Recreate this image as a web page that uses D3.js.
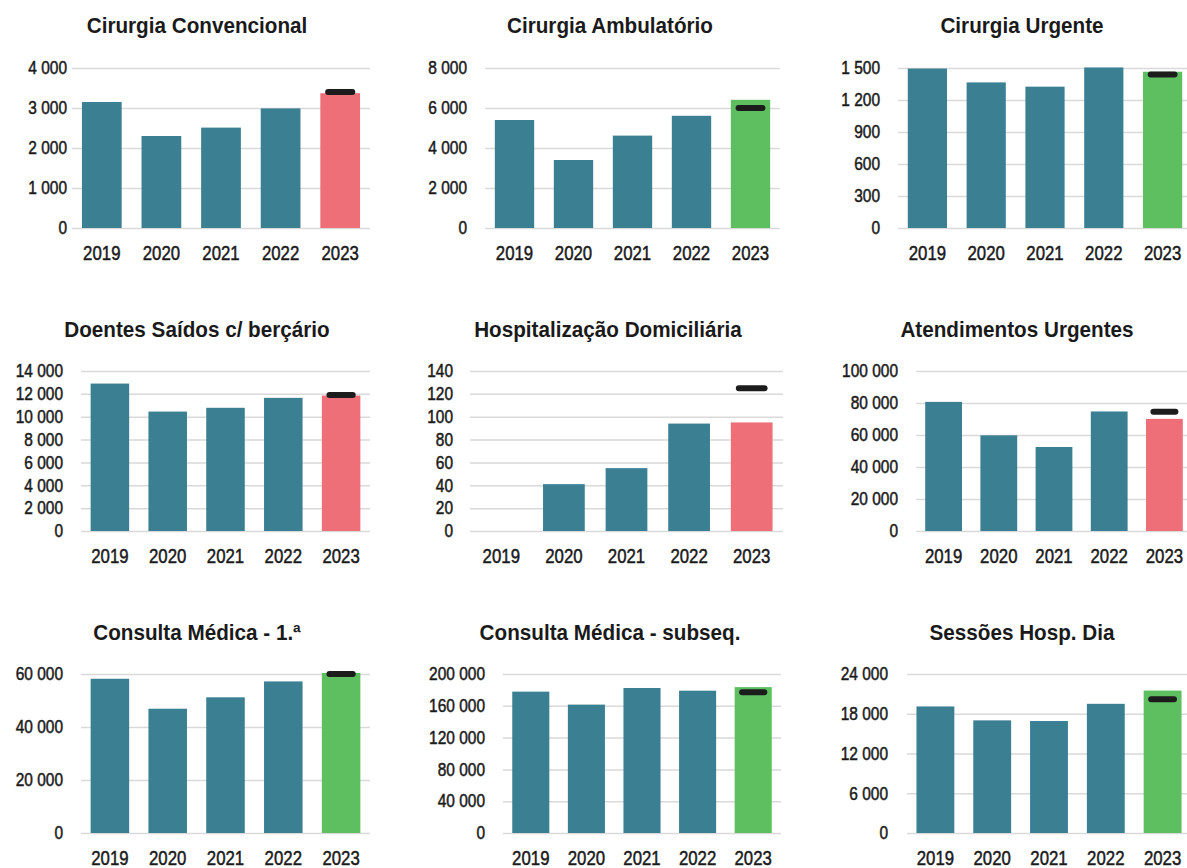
<!DOCTYPE html>
<html>
<head>
<meta charset="utf-8">
<script src="https://cdn.jsdelivr.net/npm/d3@7"></script>
<style>
  body { margin: 0; background: #fff; }
  text { font-family: "Liberation Sans", Arial, sans-serif; fill: #1a1a1a; }
</style>
</head>
<body>
<div id="chart"></div>
<script>
// Dados

var years = ["2019", "2020", "2021", "2022", "2023"];

var titles = [
  "Cirurgia Convencional", "Cirurgia Ambulatório", "Cirurgia Urgente",
  "Doentes Saídos c/ berçário", "Hospitalização Domiciliária", "Atendimentos Urgentes",
  "Consulta Médica - 1.ª", "Consulta Médica - subseq.", "Sessões Hosp. Dia"
];

var cirurgiaConvencional = [3150, 2300, 2510, 2990, 3370];
var cirurgiaAmbulatorio  = [5400, 3400, 4620, 5610, 6410];
var cirurgiaUrgente      = [1495, 1365, 1325, 1505, 1465];
var doentesSaidos        = [12900, 10450, 10780, 11650, 11850];
var hospDomiciliaria     = [0, 41, 55, 94, 95];
var atendUrgentes        = [80700, 59800, 52500, 74700, 70100];
var consultaPrimeira     = [58200, 46900, 51200, 57200, 60400];
var consultaSubseq       = [177800, 161500, 182400, 179000, 183500];
var sessoesHospDia       = [19100, 17000, 16900, 19500, 21500];

var series = [cirurgiaConvencional, cirurgiaAmbulatorio, cirurgiaUrgente,
              doentesSaidos, hospDomiciliaria, atendUrgentes,
              consultaPrimeira, consultaSubseq, sessoesHospDia];

// meta 2023
var targets = [3400, 6000, 1440, 11900, 125, 74500, 60000, 177000, 20200];

// eixo y: maximo e passo
var yMax  = [4000, 8000, 1500, 14000, 140, 100000, 60000, 200000, 24000];
var yStep = [1000, 2000, 300, 2000, 20, 20000, 20000, 40000, 6000];

// Layout

var width = 1187, height = 868;
var plotX = [[72, 370], [485, 780], [898, 1192],
             [81, 370], [470, 783], [916, 1192],
             [81, 370], [503, 781], [907, 1191]];
var labelRight = [67, 467, 880, 63, 453, 898, 63, 485, 888];
var titleX = [197, 610, 1022, 197, 608, 1017, 197, 610, 1022];
var rowTop = [68, 371, 674];
var rowBottom = [228, 531, 833];
var titleY = [33, 337, 640];

var teal = "#3b7f93", red = "#ef6f78", green = "#5dbf60";

var fmt = d3.formatLocale({decimal: ",", thousands: " ", grouping: [3], currency: ["", "€"]}).format(",d");

var svg = d3.select("#chart").append("svg")
    .attr("width", width)
    .attr("height", height);

series.forEach(function(values, i) {
  var row = Math.floor(i / 3);
  var g = svg.append("g").attr("class", "panel");

  var x = d3.scaleBand()
      .domain(years)
      .range(plotX[i])
      .paddingInner(1 / 3)
      .paddingOuter(1 / 6);

  var y = d3.scaleLinear()
      .domain([0, yMax[i]])
      .range([rowBottom[row], rowTop[row]]);

  var ticks = d3.range(0, yMax[i] + yStep[i] / 2, yStep[i]);

  g.append("g") // titulo
      .attr("transform", "translate(" + titleX[i] + "," + titleY[row] + ")")
    .append("text")
      .attr("text-anchor", "middle")
      .attr("transform", "scale(0.94,1)")
      .style("font-size", "22px")
      .style("font-weight", "bold")
      .text(titles[i]);

  g.append("g") // grelha
      .attr("transform", "translate(" + plotX[i][0] + ",0)")
      .call(d3.axisLeft(y).tickValues(ticks).tickFormat("").tickSize(-(plotX[i][1] - plotX[i][0])))
      .call(function(a) { a.select(".domain").remove(); })
      .selectAll("line")
      .attr("stroke", "#d9d9d9")
      .attr("stroke-width", 1.5);

  g.append("g") // eixo y
      .attr("transform", "translate(" + labelRight[i] + ",0)")
      .call(d3.axisLeft(y).tickValues(ticks).tickFormat(fmt).tickSize(0).tickPadding(0))
      .call(function(a) { a.select(".domain").remove(); })
      .selectAll("text")
      .attr("fill", "#1a1a1a")
      .attr("stroke", "#1a1a1a")
      .attr("stroke-width", 0.5)
      .attr("transform", "scale(0.86,1)")
      .style("font-family", "'Liberation Sans', Arial, sans-serif")
      .style("font-size", "18px");

  g.append("g") // eixo x
      .attr("transform", "translate(0," + rowBottom[row] + ")")
      .call(d3.axisBottom(x).tickSize(0).tickPadding(17))
      .call(function(a) { a.select(".domain").remove(); })
      .selectAll("text")
      .attr("fill", "#1a1a1a")
      .attr("stroke", "#1a1a1a")
      .attr("stroke-width", 0.5)
      .attr("transform", "scale(0.8,1)")
      .style("font-family", "'Liberation Sans', Arial, sans-serif")
      .style("font-size", "21px");

  g.selectAll("rect.bar")
      .data(values)
      .enter().append("rect")
      .attr("class", "bar")
      .attr("x", function(d, j) { return x(years[j]); })
      .attr("y", function(d) { return y(d); })
      .attr("width", x.bandwidth())
      .attr("height", function(d) { return y(0) - y(d); })
      .attr("fill", function(d, j) {
        if (j < years.length - 1) return teal;
        return d >= targets[i] ? green : red;
      });

  var bw = x.bandwidth();
  g.append("rect") // meta
      .attr("x", x(years[years.length - 1]) + bw * 0.12)
      .attr("y", y(targets[i]) - 3)
      .attr("width", bw * 0.76)
      .attr("height", 6)
      .attr("rx", 3)
      .attr("fill", "#1c1c1c");
});
</script>
</body>
</html>
